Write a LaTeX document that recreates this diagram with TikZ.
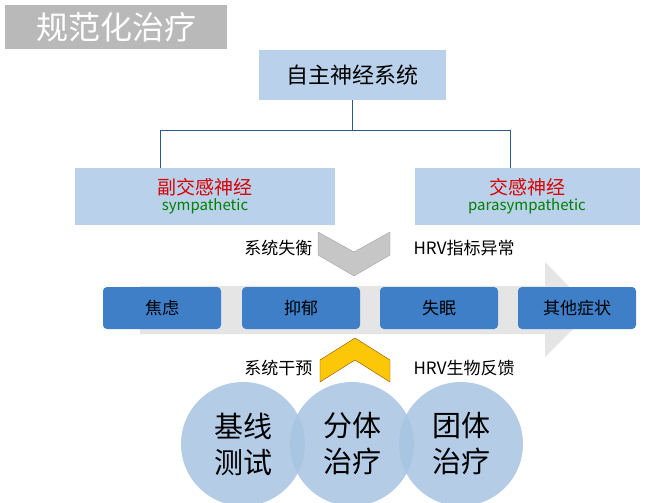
\documentclass[tikz,border=0pt]{standalone}
\usepackage{fontspec}
\setmainfont{Noto Sans CJK SC}
\begin{document}
\begin{tikzpicture}[x=1pt,y=-1pt,
  blubox/.style={fill=bb,rounded corners=4pt,minimum width=118pt,minimum height=42pt,font=\fontsize{17}{19}\selectfont},
  circ/.style={circle,fill=lc,fill opacity=.85,text opacity=1,minimum size=124pt,align=center,font=\fontsize{29}{36}\selectfont},
  lab/.style={font=\fontsize{17}{19}\selectfont}]
\definecolor{lb}{HTML}{B9D1EA}
\definecolor{bb}{HTML}{3F7FC8}
\definecolor{lc}{HTML}{A7C4E2}
\useasboundingbox (0,0) rectangle (670,503);
\fill[white] (0,0) rectangle (670,503);
\node[fill=gray!55,text=white,minimum width=222pt,minimum height=44pt,font=\fontsize{32}{36}\selectfont,anchor=north west] (title) at (5,5) {规范化治疗};
\node[fill=lb,minimum width=187pt,minimum height=50pt,font=\fontsize{22}{24}\selectfont] (root) at (352,75) {自主神经系统};
\node[fill=lb,minimum width=260pt,minimum height=57pt,align=center] (L) at (205,196) {{\fontsize{19}{22}\selectfont\color{red!85!black}副交感神经}\\[1pt]{\fontsize{15}{17}\selectfont\color{green!50!black}sympathetic}};
\node[fill=lb,minimum width=225pt,minimum height=57pt,align=center] (R) at (527,196) {{\fontsize{19}{22}\selectfont\color{red!85!black}交感神经}\\[1pt]{\fontsize{15}{17}\selectfont\color{green!50!black}parasympathetic}};
\coordinate (j) at (352,130);
\draw[thick,bb!70!black] (root.south) -- (j) (160,130) -- (510,130) (160,130) -- (160,168) (510,130) -- (510,168);
\fill[gray!20] (140,286) -- (545,286) -- (545,262) -- (592,310) -- (545,357) -- (545,334) -- (140,334) -- cycle;
\fill[gray!45,draw=gray!70] (318,232) -- (354,252) -- (390,232) -- (390,255) -- (354,276) -- (318,255) -- cycle;
\node[lab,anchor=east] (l1) at (316,248) {系统失衡};
\node[lab,anchor=west] (l2) at (410,248) {HRV指标异常};
\node[lab,anchor=east] (l3) at (316,368) {系统干预};
\node[lab,anchor=west] (l4) at (410,368) {HRV生物反馈};
\node[blubox] (b1) at (162,308) {焦虑};
\node[blubox] (b2) at (301,308) {抑郁};
\node[blubox] (b3) at (439,308) {失眠};
\node[blubox] (b4) at (577,308) {其他症状};
\node[circ] (c1) at (243,444) {基线\\测试};
\node[circ] (c2) at (352,444) {分体\\治疗};
\node[circ] (c3) at (461,444) {团体\\治疗};
\fill[yellow!60!orange,draw=orange!60!black] (320,360) -- (355,338) -- (390,360) -- (390,382) -- (355,360) -- (320,382) -- cycle;
\end{tikzpicture}
\end{document}
